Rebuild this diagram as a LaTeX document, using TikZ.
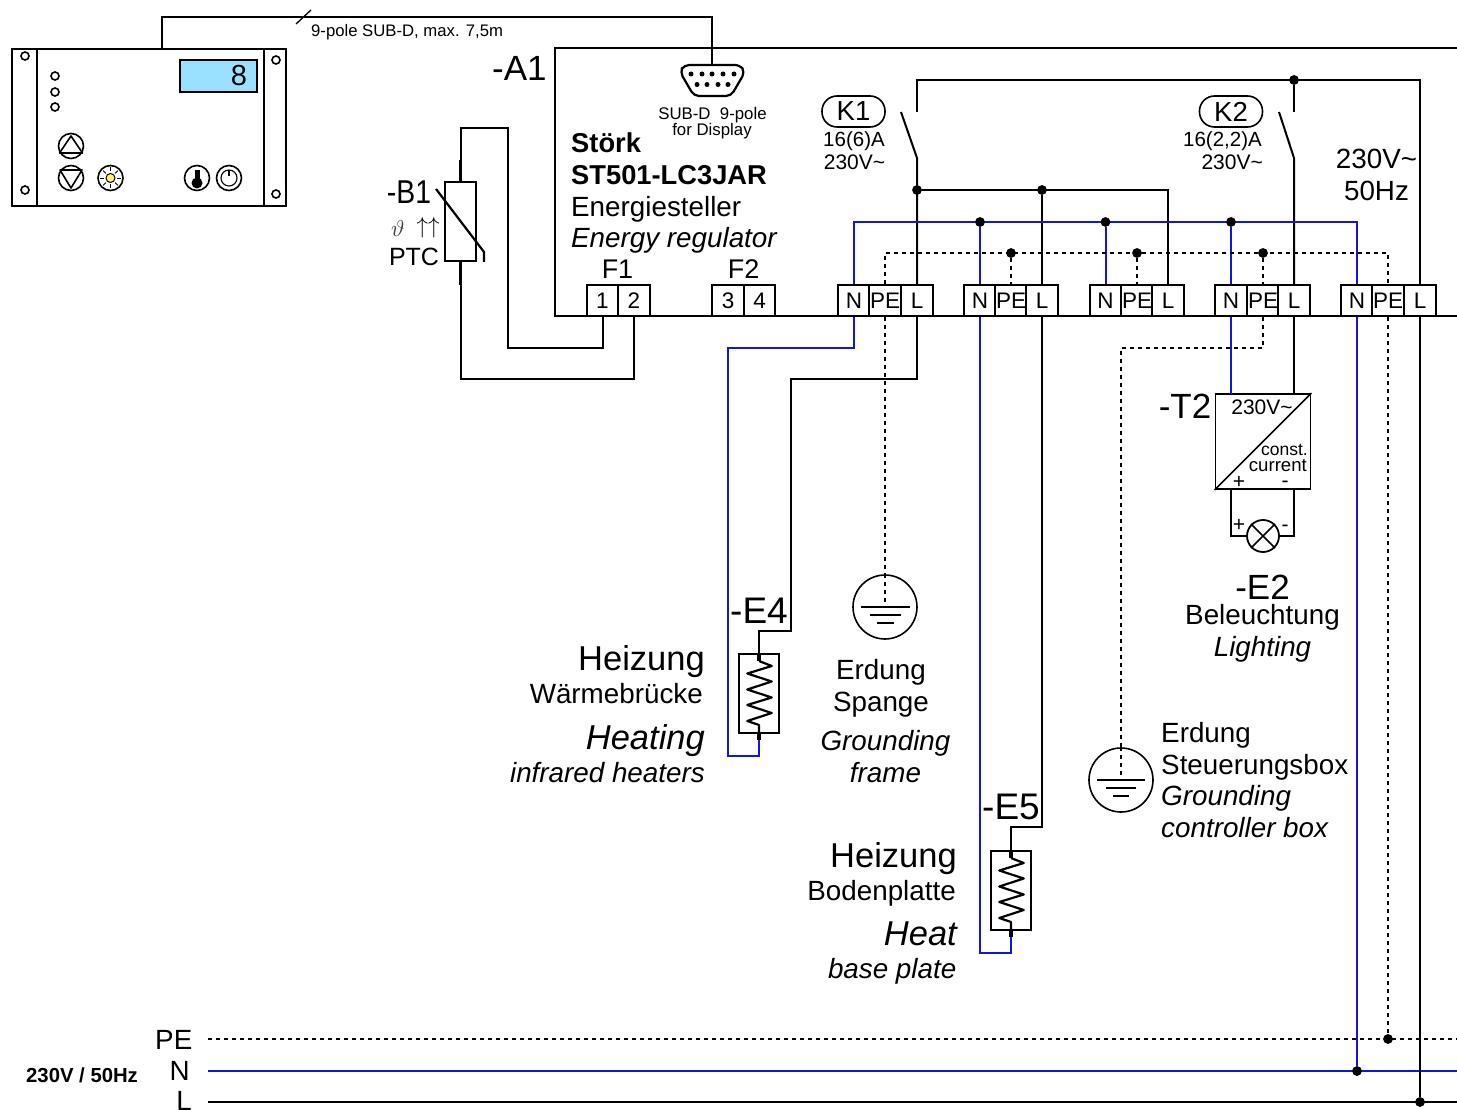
\documentclass[tikz,border=0pt]{standalone}
\usepackage{fontspec}
\setmainfont{Liberation Sans}
\newcommand\fsz[1]{\fontsize{#1}{#1}\selectfont}
\definecolor{busblue}{RGB}{20,20,225}
\definecolor{lcd}{RGB}{153,225,255}
\definecolor{lampy}{RGB}{255,245,110}
\tikzset{
 wire/.style={draw=black,line width=2pt},
 bwire/.style={draw=busblue,line width=2pt},
 dwire/.style={draw=black,line width=1.5pt,dash pattern=on 4pt off 4pt},
 thickw/.style={draw=black,line width=3.2pt},
 thin/.style={draw=black,line width=1.6pt},
 term/.style={draw=black,line width=1.8pt,fill=white,minimum width=31.5pt,minimum height=31.5pt,inner sep=0pt,font=\fsz{22.5}},
 lab/.style={inner sep=0pt,anchor=base},
 labr/.style={inner sep=0pt,anchor=base east},
 labl/.style={inner sep=0pt,anchor=base west},
 dot/.style={circle,fill=black,inner sep=0pt,minimum size=9.5pt},
 ring/.style={circle,draw=black,line width=1.6pt,fill=white,inner sep=0pt,minimum size=8pt},
 btn/.style={circle,draw=black,line width=1.6pt,fill=white,inner sep=0pt,minimum size=25pt},
 earth/.style={circle,draw=black,line width=1.6pt,inner sep=0pt,minimum size=64pt},
 relay/.style={draw=black,line width=1.6pt,rounded corners=15pt,minimum width=63pt,minimum height=31pt,inner sep=0pt,font=\fsz{27.5}},
 heater/.style={draw=black,line width=1.6pt,fill=white,minimum width=40pt,minimum height=79pt,inner sep=0pt},
}
\begin{document}
\begin{tikzpicture}[x=1pt,y=-1pt]
\useasboundingbox (0,0) rectangle (1457,1110);
% --- display unit
\node[draw=black,line width=1.8pt,minimum width=274pt,minimum height=157pt,inner sep=0pt] (unit) at (149,127.5) {};
\draw[wire] (37,49) -- (37,206) (264,49) -- (264,206);
\foreach \n/\x/\y in {ra/25/56,rb/25/190,rc/276/60,rd/276/194,la/55/76,lb/55/92,lc/55/107}
  \node[ring] (\n) at (\x,\y) {};
\node[draw=black,line width=1.5pt,fill=lcd,minimum width=77pt,minimum height=32pt,inner sep=0pt] (lcdbox) at (218.5,76) {};
\node[lab,font=\fsz{29}] (lcdval) at (239,86) {8};
\node[btn] (bup) at (71,146) {};
\draw[thin,line join=round] (59.5,153) -- (71,136) -- (82.5,153) -- cycle;
\node[btn] (bdn) at (71,178) {};
\draw[thin,line join=round] (60,170) -- (82,170) -- (71,188) -- cycle;
\node[btn] (bsun) at (110.5,178) {};
\node[circle,draw=black,line width=1pt,fill=lampy,inner sep=0pt,minimum size=9pt] (suncore) at (110.5,178) {};
\foreach \a in {0,45,...,315}
  \draw[black,line width=.9pt] (110.5,178) ++(\a:6.5) -- ++(\a:4);
\node[btn] (bth) at (197,178) {};
\fill[black] (197,183) circle (5.5);
\fill[black] (194.5,170) rectangle (199.5,182);
\node[btn] (bpw) at (229,178) {};
\draw[black,line width=1.1pt] (229,178) circle (8);
\draw[black,line width=1.1pt] (229,170) -- (229,176);
% --- controller A1
\coordinate (a1r) at (1457,48);
\coordinate (a1l) at (555,48);
\coordinate (a1b) at (555,316);
\coordinate (a1br) at (1457,316);
\draw[wire] (a1r) -- (a1l) -- (a1b) -- (a1br);
% SUB-D
\node[inner sep=0pt,minimum size=1pt] (subd) at (712,65) {};
\coordinate (ut) at (162,49);
\draw[wire] (ut) -- (162,17) -- (712,17) -- (subd);
\draw[black,line width=1.3pt] (296,24) -- (311,10);
\draw[black,line width=2.2pt,fill=white,line join=round,rounded corners=5pt] (684,65) -- (740,65) -- (745,72) -- (731,96) -- (694,96) -- (680,72) -- cycle;
\foreach \x in {691,702,712,723,734} \fill (\x,74) circle (2.5);
\foreach \x in {697,707,718,728} \fill (\x,84.5) circle (2.5);
% labels A1
\node[labl,font=\fsz{16.7}] (tsub) at (311,37) {9-pole SUB-D, max. 7,5m};
\node[labl,font=\fsz{35}] (ta1) at (492,81) {-A1};
\node[lab,font=\fsz{16.8}] (tsd) at (712.5,120) {SUB-D\ \ 9-pole};
\node[lab,font=\fsz{16.8}] (tsd2) at (712,136) {for Display};
\node[labl,font=\fsz{27.3}\bfseries] (t1) at (571,153) {Störk};
\node[labl,font=\fsz{27.3}\bfseries] (t2) at (571,185) {ST501-LC3JAR};
\node[labl,font=\fsz{27.8}] (t3) at (571,217) {Energiesteller};
\node[labl,font=\fsz{27.8}\itshape] (t4) at (571,248) {Energy regulator};
\node[lab,font=\fsz{27}] (tf1) at (617.5,279) {F1};
\node[lab,font=\fsz{27}] (tf2) at (743.5,279) {F2};
% F terminals
\node[term] (f1a) at (602.5,300.5) {1};
\node[term] (f1b) at (634,300.5) {2};
\node[term] (f2a) at (728,300.5) {3};
\node[term] (f2b) at (759.5,300.5) {4};
% --- PTC
\node[draw=black,line width=1.8pt,minimum width=31pt,minimum height=79pt,inner sep=0pt] (ptc) at (460.5,221.5) {};
\draw[wire] (f1a.south) -- (602.5,348) -- (508,348) -- (508,128) -- (460.5,128) -- (ptc.north);
\draw[wire] (f1b.south) -- (634,379) -- (460.5,379) -- (ptc.south);
\draw[thickw] (ptc.north) -- (460.5,160);
\draw[thickw] (ptc.south) -- (460.5,285);
\draw[black,line width=2.2pt] (436,189) -- (484,252) -- (484,262);
\node[inner sep=0pt,anchor=base,xscale=.86,font=\fsz{33}] (tb1) at (409,204) {-B1};
\node[inner sep=0pt,anchor=base,text=black!75] (ttheta) at (398,237) {\scalebox{2.3}{$\vartheta$}};
\node[inner sep=0pt,anchor=base] (tarr) at (428,233.5) {\scalebox{2.3}{$\uparrow\uparrow$}};
\node[inner sep=0pt,anchor=base,font=\fsz{25}] (tptc) at (414,265.5) {PTC};
% --- terminal blocks
\foreach \i/\x/\y/\z in {1/854/885/917,2/980/1011/1042,3/1105.5/1137/1168,4/1231/1263/1294,5/1357/1388/1420}{
  \node[term] (n\i) at (\x,300.5) {N};
  \node[term] (pe\i) at (\y,300.5) {PE};
  \node[term] (l\i) at (\z,300.5) {L};
}
% junction dots
\foreach \n/\x/\y in {jn2/980/222,jn3/1105.5/222,jn4/1231/222,jp2/1011/253,jp3/1137/253,jp4/1263/253,jk1/917/190,jk1b/1042/190,jtop/1294/80,jpe/1388/1039,jn/1357/1071,jl/1420/1102}
  \node[dot] (\n) at (\x,\y) {};
% L side wires
\coordinate (k1a) at (917,112);
\coordinate (k1b) at (917,158);
\coordinate (k2a) at (1294,112);
\coordinate (k2b) at (1294,158);
\draw[wire] (k1a) -- (917,80) -- (1420,80) -- (l5.north);
\draw[wire] (jtop) -- (k2a);
\draw[wire] (901,112) -- (k1b) -- (l1.north);
\draw[wire] (1279,112) -- (k2b) -- (l4.north);
\draw[wire] (jk1) -- (1168,190) -- (l3.north);
\draw[wire] (jk1b) -- (l2.north);
% N bus
\draw[bwire] (n1.north) -- (854,222) -- (1357,222) -- (n5.north);
\draw[bwire] (jn2) -- (n2.north);
\draw[bwire] (jn3) -- (n3.north);
\draw[bwire] (jn4) -- (n4.north);
% PE bus
\draw[dwire] (pe1.north) -- (885,253) -- (1388,253) -- (pe5.north);
\draw[dwire] (jp2) -- (pe2.north);
\draw[dwire] (jp3) -- (pe3.north);
\draw[dwire] (jp4) -- (pe4.north);
\foreach \n in {jn2,jn3,jn4,jp2,jp3,jp4,jk1,jk1b,jtop} \node[dot] at (\n) {};
% relays
\node[relay] (k1) at (853.5,111.5) {K1};
\node[relay] (k2) at (1231,111.5) {K2};
\node[lab,font=\fsz{20.5}] (k1t) at (854,147) {16(6)A};
\node[lab,font=\fsz{21}] (k1u) at (854.5,170) {230V\char"7E};
\node[labr,font=\fsz{20.5}] (k2t) at (1262,147) {16(2,2)A};
\node[labr,font=\fsz{21}] (k2u) at (1263,170) {230V\char"7E};
\node[lab,font=\fsz{27.8}] (v1) at (1376.5,169) {230V\char"7E};
\node[lab,font=\fsz{27.8}] (v2) at (1376.5,201) {50Hz};
% --- heater E4
\node[heater] (e4) at (759,693.5) {};
\draw[wire] (l1.south) -- (917,379) -- (791,379) -- (791,631) -- (759,631) -- (e4.north);
\coordinate (e4b) at (759,740);
\draw[bwire] (n1.south) -- (854,348) -- (728,348) -- (728,756) -- (759,756) -- (e4b);
\draw[thickw] (e4.south) -- (e4b);
\draw[thickw] (e4.north) -- (759,661);
\draw[black,line width=2.2pt,line join=round] (759,661) -- (771.7,666) -- (747.3,673.5) -- (771.7,681.5) -- (747.3,689.5) -- (771.7,697.5) -- (747.3,705) -- (771.7,713) -- (747.3,721) -- (759,725) -- (759,733);
% --- heater E5
\node[heater] (e5) at (1011,890.5) {};
\draw[wire] (l2.south) -- (1042,827) -- (1011,827) -- (e5.north);
\coordinate (e5b) at (1011,937);
\draw[bwire] (n2.south) -- (980,953) -- (1011,953) -- (e5b);
\draw[thickw] (e5.south) -- (e5b);
\draw[thickw] (e5.north) -- (1011,858);
\draw[black,line width=2.2pt,line join=round] (1011,858) -- (1023.7,863) -- (999.3,870.5) -- (1023.7,878.5) -- (999.3,886.5) -- (1023.7,894.5) -- (999.3,902) -- (1023.7,910) -- (999.3,918) -- (1011,922) -- (1011,930);
% --- earths
\node[earth] (ea) at (885,607) {};
\draw[dwire] (pe1.south) -- (ea.north);
\draw[dwire] (ea.north) -- (ea.center);
\draw[thin] (861,607) -- (910,607) (870,615) -- (901,615) (877,623) -- (894,623);
\node[earth] (eb) at (1121,780) {};
\draw[dwire] (pe4.south) -- (1263,348) -- (1121,348) -- (eb.north);
\draw[dwire] (eb.north) -- (eb.center);
\draw[thin] (1097,780) -- (1145,780) (1106,788) -- (1136,788) (1113,796) -- (1129,796);
% --- T2
\node[draw=black,line width=1.8pt,minimum width=95pt,minimum height=95pt,inner sep=0pt] (t2box) at (1263,441.5) {};
\draw[bwire] (n4.south) -- (1231,394);
\draw[wire] (l4.south) -- (1294,394);
\draw[thin] (t2box.south west) -- (t2box.north east);
\node[circle,draw=black,line width=1.8pt,inner sep=0pt,minimum size=32pt] (lamp) at (1263,536) {};
\draw[wire] (1231,489) -- (1231,536) -- (lamp.west);
\draw[wire] (1294,489) -- (1294,536) -- (lamp.east);
\draw[thin] (lamp.north west) -- (lamp.south east) (lamp.north east) -- (lamp.south west);
\node[inner sep=0pt,anchor=base,font=\fsz{35}] (tt2) at (1185,418) {-T2};
\node[lab,font=\fsz{21}] (tt21) at (1262,414) {230V\char"7E};
\node[labr,font=\fsz{17.5}] (tt22) at (1308,455) {const.};
\node[labr,font=\fsz{18.6}] (tt23) at (1307,471) {current};
\node[lab,font=\fsz{21}] (tp1) at (1239,488) {+};
\node[lab,font=\fsz{21}] (tm1) at (1285,487) {-};
\node[lab,font=\fsz{21}] (tp2) at (1239,531) {+};
\node[lab,font=\fsz{21}] (tm2) at (1285,531) {-};
\node[lab,font=\fsz{35}] (te2) at (1262.5,599) {-E2};
\node[lab,font=\fsz{27.8}] (te2a) at (1262.5,624) {Beleuchtung};
\node[lab,font=\fsz{27.8}\itshape] (te2b) at (1262.5,656) {Lighting};
% --- texts
\node[lab,font=\fsz{37}] (te4) at (759,623) {-E4};
\node[labr,font=\fsz{34.5}] at (705,670) {Heizung};
\node[labr,font=\fsz{27.8}] at (703,703) {Wärmebrücke};
\node[labr,font=\fsz{34.5}\itshape] at (705,749) {Heating};
\node[labr,font=\fsz{27.8}\itshape] at (705,782) {infrared heaters};
\node[lab,font=\fsz{27.8}] at (881,679.5) {Erdung};
\node[lab,font=\fsz{27.8}] at (881,711) {Spange};
\node[lab,font=\fsz{27.8}\itshape] at (885.5,750) {Grounding};
\node[lab,font=\fsz{27.8}\itshape] at (885.5,782) {frame};
\node[lab,font=\fsz{37}] (te5) at (1011,819) {-E5};
\node[labr,font=\fsz{34.5}] at (957,867) {Heizung};
\node[labr,font=\fsz{27.8}] at (956,900) {Bodenplatte};
\node[labr,font=\fsz{34.5}\itshape] at (957,945) {Heat};
\node[labr,font=\fsz{27.8}\itshape] at (956.5,978) {base plate};
\node[labl,font=\fsz{27.8}] at (1161,742.5) {Erdung};
\node[labl,font=\fsz{27.8}] at (1161,774) {Steuerungsbox};
\node[labl,font=\fsz{27.8}\itshape] at (1161,805.5) {Grounding};
\node[labl,font=\fsz{27.8}\itshape] at (1161,837) {controller box};
% --- mains
\coordinate (pel) at (208,1039);
\coordinate (per) at (1457,1039);
\coordinate (nl) at (208,1071);
\coordinate (nr) at (1457,1071);
\coordinate (ll) at (208,1102);
\coordinate (lr) at (1457,1102);
\draw[dwire] (pel) -- (per);
\draw[bwire] (nl) -- (nr);
\draw[wire] (ll) -- (lr);
\draw[bwire] (n5.south) -- (jn);
\draw[dwire] (pe5.south) -- (jpe);
\draw[wire] (l5.south) -- (jl);
\foreach \n in {jpe,jn,jl} \node[dot] at (\n) {};
\node[labr,font=\fsz{27.8}] at (192.5,1049) {PE};
\node[labr,font=\fsz{27.8}] at (190,1080) {N};
\node[labr,font=\fsz{27.8}] at (192,1110) {L};
\node[labl,font=\fsz{20.3}\bfseries] at (26,1082) {230V / 50Hz};
\end{tikzpicture}
\end{document}
